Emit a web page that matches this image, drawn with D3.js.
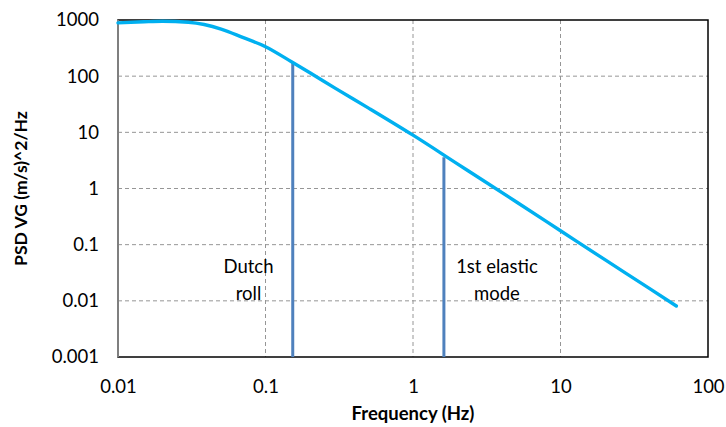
<!DOCTYPE html>
<html>
<head>
<meta charset="utf-8">
<script src="https://cdn.jsdelivr.net/npm/d3@7"></script>
<style>
  body { margin: 0; background: #fff; }
  text { font-family: Lato, "Open Sans", sans-serif; }
</style>
</head>
<body>
<div id="chart"></div>
<script>
// turbulence PSD
var freq = [0.01, 0.015, 0.02, 0.03, 0.05, 0.07, 0.1, 0.15, 0.2, 0.3, 0.5, 1, 2, 5, 10, 20, 40, 61];
var psd = [890, 930, 950, 910, 690, 490, 335, 181, 115, 60, 27, 8.9, 2.75, 0.58, 0.177, 0.054, 0.0167, 0.0081];

// aircraft modes
var modeFreq = [0.153, 1.62];
var modePsd = [178, 3.6];
var modeLabels = [["Dutch", "roll"], ["1st elastic", "mode"]];
var modeLabelFreq = [0.0767, 3.71];

var xTicks = [0.01, 0.1, 1, 10, 100];
var xTickLabels = ["0.01", "0.1", "1", "10", "100"];
var yTicks = [0.001, 0.01, 0.1, 1, 10, 100, 1000];
var yTickLabels = ["0.001", "0.01", "0.1", "1", "10", "100", "1000"];

var W = 726, H = 427;
var mLeft = 118, mRight = 708, mTop = 20, mBottom = 357;
var FONT = 18.5;

var svg = d3.select("#chart").append("svg")
	.attr("width", W)
	.attr("height", H);

var x = d3.scaleLog().domain([0.01, 100]).range([mLeft, mRight]);
var y = d3.scaleLog().domain([0.001, 1000]).range([mBottom, mTop]);

// grid
svg.append("g").selectAll("line")
	.data(xTicks.slice(1, -1))
	.enter().append("line")
	.attr("x1", function(d) { return x(d); })
	.attr("x2", function(d) { return x(d); })
	.attr("y1", mTop).attr("y2", mBottom)
	.style("stroke", "#969696")
	.style("stroke-dasharray", "4,3");

svg.append("g").selectAll("line")
	.data(yTicks.slice(1, -1))
	.enter().append("line")
	.attr("y1", function(d) { return y(d); })
	.attr("y2", function(d) { return y(d); })
	.attr("x1", mLeft).attr("x2", mRight)
	.style("stroke", "#969696")
	.style("stroke-dasharray", "4,3");

// frame
svg.append("rect")
	.attr("x", mLeft).attr("y", mTop)
	.attr("width", mRight - mLeft).attr("height", mBottom - mTop)
	.style("fill", "none")
	.style("stroke", "#000")
	.style("stroke-width", 1.5);
svg.append("line")
	.attr("x1", mLeft).attr("x2", mLeft)
	.attr("y1", mTop).attr("y2", mBottom)
	.style("stroke", "#7f7f7f")
	.style("stroke-width", 2);

// axes (labels only)
var xAxis = d3.axisBottom(x).tickValues(xTicks)
	.tickFormat(function(d, i) { return xTickLabels[i]; })
	.tickSize(0).tickPadding(23);
var gx = svg.append("g").attr("transform", "translate(0," + mBottom + ")").call(xAxis);
gx.select(".domain").remove();
gx.selectAll("text").style("font-size", FONT + "px").style("fill", "#000")
	.style("font-family", "Lato, 'Open Sans', sans-serif");

var yAxis = d3.axisLeft(y).tickValues(yTicks)
	.tickFormat(function(d, i) { return yTickLabels[i]; })
	.tickSize(0).tickPadding(19);
var gy = svg.append("g").attr("transform", "translate(" + mLeft + ",0)").call(yAxis);
gy.select(".domain").remove();
gy.selectAll("text").style("font-size", FONT + "px").style("fill", "#000")
	.style("font-family", "Lato, 'Open Sans', sans-serif");

// mode lines
svg.append("g").selectAll("line")
	.data(modeFreq)
	.enter().append("line")
	.attr("x1", function(d) { return x(d); })
	.attr("x2", function(d) { return x(d); })
	.attr("y1", mBottom)
	.attr("y2", function(d, i) { return y(modePsd[i]); })
	.style("stroke", "#4f81bd")
	.style("stroke-width", 3);

// PSD curve
var line = d3.line()
	.x(function(d) { return x(d[0]); })
	.y(function(d) { return y(d[1]); })
	.curve(d3.curveMonotoneX);

svg.append("path")
	.datum(d3.zip(freq, psd))
	.attr("d", line)
	.style("fill", "none")
	.style("stroke", "#00b0f0")
	.style("stroke-width", 3.4)
	.style("stroke-linecap", "round");

// mode labels
modeLabels.forEach(function(lines, i) {
	var t = svg.append("text")
		.attr("x", x(modeLabelFreq[i]))
		.attr("y", 273)
		.attr("text-anchor", "middle")
		.style("font-size", FONT + "px")
		.style("fill", "#000");
	lines.forEach(function(s, j) {
		t.append("tspan")
			.attr("x", x(modeLabelFreq[i]))
			.attr("dy", j == 0 ? 0 : 27)
			.text(s);
	});
});

// titles
svg.append("text")
	.attr("x", x(1))
	.attr("y", 420)
	.attr("text-anchor", "middle")
	.style("font-size", "18.5px")
	.style("font-weight", "bold")
	.text("Frequency (Hz)");

svg.append("text")
	.attr("transform", "translate(27," + (mTop + mBottom) / 2 + ") rotate(-90)")
	.attr("text-anchor", "middle")
	.style("font-size", "17.5px")
	.style("font-weight", "bold")
	.text("PSD VG (m/s)^2/Hz");
</script>
</body>
</html>
